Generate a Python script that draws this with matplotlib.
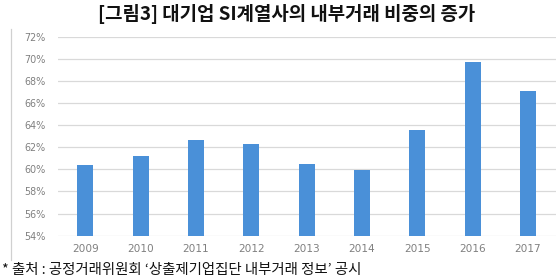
import matplotlib
matplotlib.use("Agg")
import matplotlib.pyplot as plt
from matplotlib.lines import Line2D

plt.rcParams['font.family'] = ['Noto Sans CJK KR', 'DejaVu Sans']

years = ['2009', '2010', '2011', '2012', '2013', '2014', '2015', '2016', '2017']
values = [60.4, 61.2, 62.7, 62.3, 60.5, 59.9, 63.6, 69.7, 67.1]
yticks = [54, 56, 58, 60, 62, 64, 66, 68, 70, 72]
title = '[그림3] 대기업 SI계열사의 내부거래 비중의 증가'
source = '* 출처 : 공정거래위원회 ‘상출제기업집단 내부거래 정보’ 공시'

W, H = 559, 279
fig = plt.figure(figsize=(W / 100, H / 100), dpi=100)
fig.patch.set_facecolor('white')

left, right = 57.6 / W, 555.7 / W
bottom, top = (H - 235.7) / H, (H - 36.7) / H
ax = fig.add_axes([left, bottom, right - left, top - bottom])

x = list(range(len(years)))
heights = [v - 54 for v in values]
ax.bar(x, heights, bottom=54, width=0.29, color='#4a90d8', zorder=3)

ax.set_xlim(-0.5, len(years) - 0.5)
ax.set_ylim(54, 72)
ax.set_yticks(yticks)
ax.set_yticklabels([f'{t}%' for t in yticks], family='DejaVu Sans')
ax.set_xticks(x)
ax.set_xticklabels(years, family='DejaVu Sans')
ax.yaxis.grid(True, color='#d9d9d9', linewidth=0.9, zorder=0)
for s in ax.spines.values():
    s.set_visible(False)
ax.tick_params(axis='both', length=0, colors='#808080')
ax.tick_params(axis='y', pad=8.5, labelsize=6.9)
ax.tick_params(axis='x', pad=6.3, labelsize=7.6)

# left frame line
fig.add_artist(Line2D([10.5 / W, 10.5 / W], [(H - 29) / H, (H - 260) / H],
                      color='#d0d0d0', linewidth=0.9))

fig.text(287 / W, (H - 14) / H, title, ha='center', va='center',
         fontsize=13.6, fontweight='bold', color='#111111')
fig.text(2 / W, (H - 270) / H, source, ha='left', va='center',
         fontsize=10.4, color='#111111')

fig.savefig('out.png', dpi=100, facecolor='white')
